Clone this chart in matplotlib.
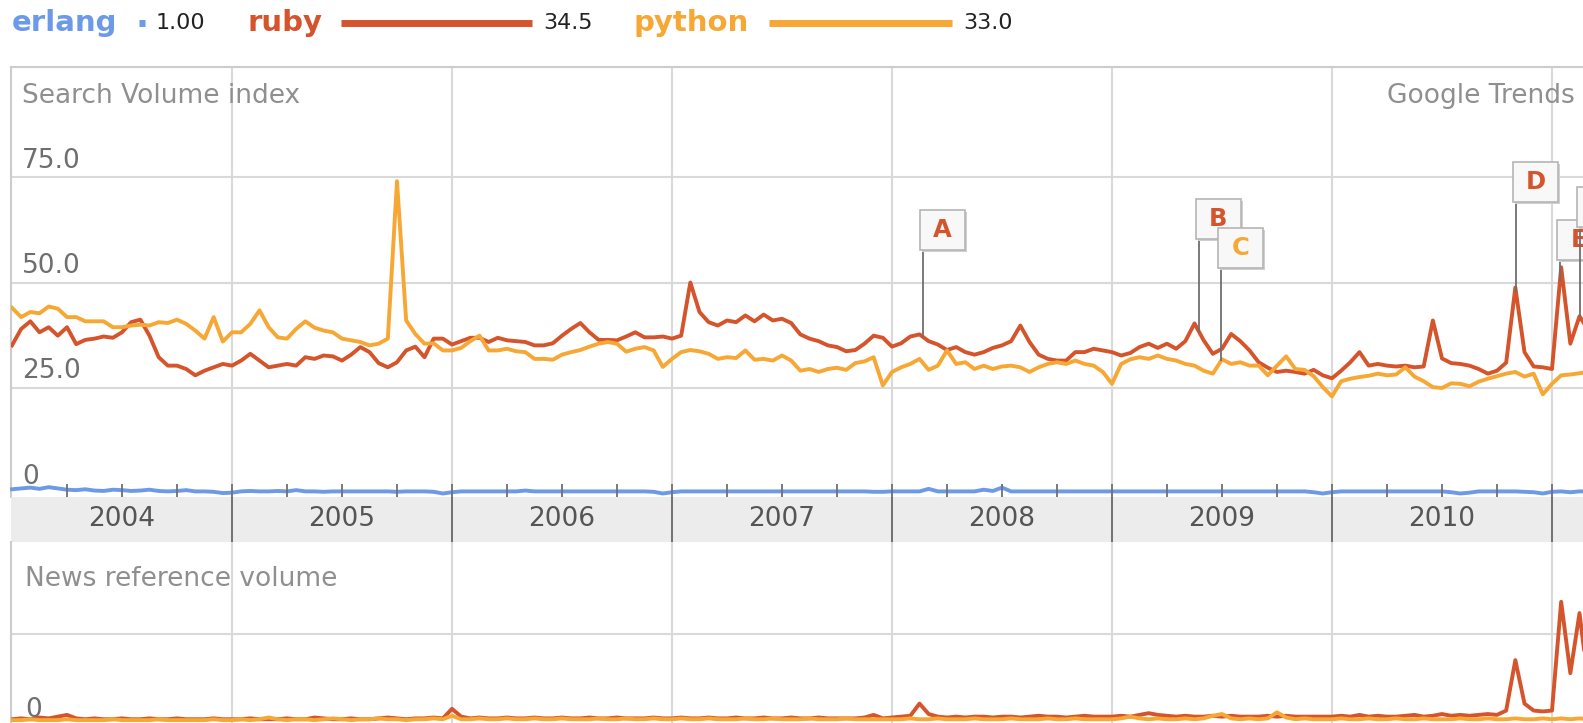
import numpy as np
import matplotlib
matplotlib.use('Agg')
import matplotlib.pyplot as plt
from matplotlib.patches import Rectangle
from matplotlib.lines import Line2D

# ---- data (semi-monthly samples from Jan 2004) ----
series_names = ['erlang', 'ruby', 'python']
series_avg = [1.00, 34.5, 33.0]
series_colors = ['#6d9ae8', '#d5542b', '#f6a734']

year_labels = ['2004', '2005', '2006', '2007', '2008', '2009', '2010']

python_search = [
    44.0, 41.8, 43.0, 42.7, 44.3, 43.8, 41.8, 41.8, 40.8, 40.8, 40.8, 39.4,
    39.4, 39.8, 40.0, 39.8, 40.6, 40.4, 41.2, 40.2, 38.6, 36.7, 41.8, 36.0,
    38.2, 38.2, 40.2, 43.4, 39.4, 37.0, 36.7, 39.0, 40.8, 39.3, 38.6, 38.2,
    36.7, 36.3, 35.9, 35.1, 35.5, 36.7, 74.0, 41.0, 37.8, 35.5, 35.6, 33.9,
    33.9, 34.5, 36.1, 37.4, 33.9, 33.9, 34.3, 33.7, 33.5, 31.9, 31.9, 31.7,
    32.9, 33.5, 34.0, 34.8, 35.5, 35.9, 35.5, 33.6, 34.3, 34.7, 33.9, 30.0,
    31.9, 33.5, 34.0, 33.7, 33.1, 31.9, 32.3, 32.1, 33.9, 31.7, 31.9, 31.5,
    32.7, 31.5, 29.1, 29.5, 28.8, 29.5, 29.8, 29.3, 30.9, 31.3, 32.3, 25.6,
    28.8, 29.9, 30.7, 31.9, 29.3, 30.3, 33.9, 30.7, 31.1, 29.5, 30.3, 29.5,
    30.1, 30.3, 29.9, 28.8, 29.9, 30.7, 31.1, 30.7, 31.5, 30.7, 30.3, 28.8,
    26.0, 30.7, 31.8, 32.3, 31.9, 32.7, 31.9, 31.5, 30.7, 30.3, 29.1, 28.4,
    31.8, 30.7, 31.1, 30.3, 30.3, 28.0, 30.3, 32.5, 29.5, 29.3, 27.8, 25.2,
    23.0, 26.6, 27.2, 27.6, 27.9, 28.4, 28.0, 28.2, 29.9, 27.7, 26.6, 25.2,
    25.0, 26.1, 26.0, 25.4, 26.5, 27.2, 27.8, 28.4, 28.8, 27.7, 28.4, 23.5,
    26.0, 28.0, 28.2, 28.5, 28.8,
]

ruby_search = [
    35.1, 39.0, 40.8, 38.2, 39.4, 37.4, 39.4, 35.4, 36.4, 36.7, 37.2, 36.9,
    38.2, 40.6, 41.2, 37.4, 32.3, 30.3, 30.3, 29.5, 28.0, 29.1, 29.9, 30.7,
    30.3, 31.5, 33.1, 31.5, 29.9, 30.3, 30.7, 30.3, 32.3, 31.9, 32.7, 32.5,
    31.5, 32.9, 34.7, 33.5, 30.9, 29.9, 31.1, 33.9, 34.8, 32.3, 36.7, 36.7,
    35.3, 36.1, 36.9, 36.9, 35.9, 36.9, 36.3, 36.1, 35.9, 35.1, 35.1, 35.6,
    37.4, 39.0, 40.4, 38.2, 36.4, 36.4, 36.3, 37.2, 38.2, 37.0, 37.0, 37.2,
    36.7, 37.4, 50.0, 43.0, 40.6, 39.8, 41.0, 40.6, 42.2, 40.8, 42.4, 41.0,
    41.4, 40.4, 37.7, 36.7, 36.1, 35.1, 34.7, 33.7, 34.0, 35.5, 37.4, 36.9,
    34.8, 35.6, 37.2, 37.7, 36.1, 35.3, 34.0, 34.7, 33.5, 32.9, 33.5, 34.5,
    35.1, 36.1, 39.8, 35.9, 32.9, 31.9, 31.5, 31.5, 33.5, 33.5, 34.3, 33.9,
    33.5, 32.7, 33.3, 34.7, 35.5, 34.5, 35.5, 34.3, 36.1, 40.3, 36.3, 33.1,
    34.3, 37.8, 36.1, 33.9, 31.1, 29.8, 28.8, 29.1, 28.8, 28.4, 29.3, 28.0,
    27.3, 29.1, 31.1, 33.5, 30.3, 30.7, 30.3, 30.1, 30.3, 29.9, 30.1, 41.0,
    32.0, 30.9, 30.7, 30.3, 29.5, 28.4, 29.1, 31.0, 48.8, 33.5, 30.1, 29.9,
    29.5, 53.6, 35.5, 42.0, 38.6,
]

erlang_search = [
    1.0, 1.2, 1.4, 1.1, 1.5, 1.2, 0.9, 0.8, 1.0, 0.7, 0.6, 0.9, 0.8, 0.6, 0.7, 0.9, 0.6, 0.5, 0.6, 0.8, 0.5, 0.5, 0.4, 0.1,
    0.2, 0.5, 0.6, 0.5, 0.5, 0.6, 0.5, 0.8, 0.5, 0.5, 0.4, 0.5, 0.5, 0.5, 0.5, 0.5, 0.5, 0.5, 0.4, 0.5, 0.5, 0.5, 0.4, 0.0,
    0.3, 0.5, 0.5, 0.5, 0.5, 0.5, 0.5, 0.5, 0.7, 0.5, 0.5, 0.5, 0.5, 0.5, 0.5, 0.5, 0.5, 0.5, 0.5, 0.5, 0.5, 0.5, 0.4, 0.0,
    0.3, 0.5, 0.5, 0.5, 0.5, 0.5, 0.5, 0.5, 0.5, 0.5, 0.5, 0.5, 0.5, 0.5, 0.5, 0.5, 0.5, 0.5, 0.5, 0.5, 0.5, 0.5, 0.4, 0.4,
    0.5, 0.5, 0.5, 0.5, 1.1, 0.5, 0.5, 0.5, 0.5, 0.5, 0.9, 0.6, 1.4, 0.5, 0.5, 0.5, 0.5, 0.5, 0.5, 0.5, 0.5, 0.5, 0.5, 0.5,
    0.5, 0.5, 0.5, 0.5, 0.5, 0.5, 0.5, 0.5, 0.5, 0.5, 0.5, 0.5, 0.5, 0.5, 0.5, 0.5, 0.5, 0.5, 0.5, 0.5, 0.5, 0.5, 0.3, 0.0,
    0.3, 0.5, 0.5, 0.5, 0.5, 0.5, 0.5, 0.5, 0.5, 0.5, 0.5, 0.5, 0.5, 0.3, 0.0, 0.2, 0.5, 0.5, 0.5, 0.5, 0.5, 0.4, 0.3, 0.0,
    0.4, 0.5, 0.3, 0.5, 0.5,
]

ruby_news = [
    0.02, 0.03, 0.02, 0.04, 0.03, 0.05, 0.07, 0.03, 0.02, 0.03, 0.02, 0.02, 0.03, 0.02, 0.02, 0.03, 0.02, 0.02, 0.03, 0.02, 0.02, 0.02, 0.03, 0.02,
    0.02, 0.02, 0.03, 0.02, 0.02, 0.02, 0.03, 0.02, 0.02, 0.04, 0.03, 0.02, 0.02, 0.03, 0.02, 0.02, 0.03, 0.04, 0.03, 0.02, 0.03, 0.03, 0.04, 0.03,
    0.14, 0.05, 0.03, 0.04, 0.03, 0.03, 0.04, 0.03, 0.03, 0.04, 0.03, 0.03, 0.04, 0.03, 0.03, 0.04, 0.03, 0.03, 0.04, 0.03, 0.03, 0.03, 0.04, 0.03,
    0.03, 0.04, 0.03, 0.03, 0.04, 0.03, 0.03, 0.04, 0.03, 0.03, 0.04, 0.03, 0.03, 0.04, 0.03, 0.03, 0.04, 0.03, 0.03, 0.03, 0.03, 0.04, 0.07, 0.03,
    0.04, 0.05, 0.06, 0.20, 0.08, 0.05, 0.04, 0.05, 0.04, 0.05, 0.05, 0.04, 0.05, 0.05, 0.04, 0.05, 0.06, 0.05, 0.05, 0.04, 0.05, 0.06, 0.05, 0.05,
    0.05, 0.06, 0.05, 0.07, 0.09, 0.07, 0.06, 0.05, 0.06, 0.05, 0.05, 0.06, 0.05, 0.06, 0.05, 0.05, 0.05, 0.06, 0.05, 0.06, 0.05, 0.05, 0.05, 0.05,
    0.05, 0.06, 0.05, 0.07, 0.05, 0.06, 0.05, 0.05, 0.06, 0.07, 0.05, 0.06, 0.08, 0.06, 0.07, 0.06, 0.07, 0.08, 0.07, 0.12, 0.70, 0.20, 0.12, 0.11,
    0.12, 1.37, 0.55, 1.24, 0.39,
]

python_news = [
    0.01, 0.01, 0.02, 0.01, 0.01, 0.01, 0.02, 0.01, 0.01, 0.01, 0.01, 0.02, 0.01, 0.01, 0.01, 0.01, 0.02, 0.01, 0.01, 0.01, 0.01, 0.01, 0.02, 0.01,
    0.01, 0.02, 0.01, 0.02, 0.04, 0.02, 0.01, 0.02, 0.02, 0.01, 0.02, 0.03, 0.02, 0.01, 0.02, 0.02, 0.03, 0.02, 0.02, 0.01, 0.02, 0.02, 0.03, 0.02,
    0.06, 0.02, 0.02, 0.03, 0.02, 0.02, 0.03, 0.02, 0.02, 0.03, 0.02, 0.02, 0.03, 0.02, 0.02, 0.02, 0.03, 0.02, 0.02, 0.03, 0.02, 0.02, 0.03, 0.02,
    0.02, 0.03, 0.02, 0.02, 0.03, 0.02, 0.02, 0.02, 0.03, 0.02, 0.02, 0.03, 0.02, 0.02, 0.02, 0.03, 0.02, 0.02, 0.02, 0.03, 0.02, 0.02, 0.02, 0.02,
    0.02, 0.02, 0.03, 0.02, 0.02, 0.03, 0.02, 0.02, 0.02, 0.03, 0.02, 0.02, 0.02, 0.03, 0.02, 0.02, 0.02, 0.03, 0.02, 0.02, 0.03, 0.02, 0.02, 0.02,
    0.02, 0.03, 0.05, 0.03, 0.02, 0.03, 0.02, 0.02, 0.03, 0.02, 0.03, 0.06, 0.08, 0.03, 0.02, 0.03, 0.02, 0.03, 0.10, 0.04, 0.02, 0.03, 0.02, 0.02,
    0.02, 0.03, 0.02, 0.02, 0.03, 0.02, 0.02, 0.03, 0.02, 0.02, 0.03, 0.02, 0.02, 0.02, 0.03, 0.02, 0.02, 0.03, 0.02, 0.02, 0.03, 0.02, 0.02, 0.03,
    0.02, 0.03, 0.02, 0.03, 0.02,
]

# news flags: letter, date (decimal year), series the flag points at
# (the sixth flag's letter lies beyond the cropped edge of the screenshot)
flag_letters = ['A', 'B', 'C', 'D', 'E', '']
flag_dates = [2008.141, 2009.395, 2009.495, 2010.836, 2011.036, 2011.127]
flag_series = ['ruby', 'ruby', 'python', 'ruby', 'ruby', 'ruby']

# semi-monthly sample dates
dates = 2004 + np.arange(len(ruby_search)) / 24.0

# ---- layout (pixels of the 1583x723 picture) ----
W, H = 1583, 723
X0_PX, PX_YEAR = 12, 220.0          # Jan 2004 position, pixels per year
UP_TOP, UP_BOT, UP_ZERO, UP_PXU = 67, 497, 493.5, 4.22
BAND_BOT = 542
LO_ZERO, LO_PXU = 721, 87.0
LEFT = 11
flag_box_bottom_px = [250, 239, 268, 202, 260, 227]

GRID = '#d9d9d9'
TICKC = '#707070'
LABEL_FS = 19

fig = plt.figure(figsize=(W / 100, H / 100), dpi=100)


def px_axes(top, bottom):
    return fig.add_axes([LEFT / W, 1 - bottom / H, (W - LEFT) / W, (bottom - top) / H])


def ftext(x, y, s, **kw):
    return fig.text(x / W, 1 - y / H, s, **kw)


xlim = (2004 + (LEFT - X0_PX) / PX_YEAR, 2004 + (W - X0_PX) / PX_YEAR)
years = np.arange(2005, 2012)
quarters = np.arange(2004.25, 2011.1, 0.25)

# ---- upper panel: search volume ----
ax = px_axes(UP_TOP, UP_BOT)
ax.set_xlim(*xlim)
ax.set_ylim((UP_ZERO - UP_BOT) / UP_PXU, (UP_ZERO - UP_TOP) / UP_PXU)
ax.set_yticks([25, 50, 75])
ax.set_xticks(years)
ax.grid(True, color=GRID, lw=1.5)
ax.tick_params(length=0, labelbottom=False, labelleft=False)
for side in ['right', 'bottom']:
    ax.spines[side].set_visible(False)
for side in ['left', 'top']:
    ax.spines[side].set_color('#cccccc')
    ax.spines[side].set_linewidth(1.5)

lw = 2.8
ax.plot(dates, ruby_search, color=series_colors[1], lw=lw, solid_joinstyle='round', zorder=3)
ax.plot(dates, python_search, color=series_colors[2], lw=lw, solid_joinstyle='round', zorder=4)
ax.plot(dates, erlang_search, color=series_colors[0], lw=lw, solid_joinstyle='round', zorder=5, clip_on=False)

# flags
lookup = {'ruby': (ruby_search, series_colors[1]), 'python': (python_search, series_colors[2])}
bw, bh = 45 / PX_YEAR, 40 / UP_PXU
for k, (letter, d, sname) in enumerate(zip(flag_letters, flag_dates, flag_series)):
    vals, col = lookup[sname]
    yv = np.interp(d, dates, vals)
    yb = (UP_ZERO - flag_box_bottom_px[k]) / UP_PXU
    z = 10 + 2 * k
    ax.vlines(d, yv, yb, color='#6f6f6f', lw=1.3, zorder=z)
    x_left = d - 3 / PX_YEAR
    ax.add_patch(Rectangle((x_left + 2 / PX_YEAR, yb - 2 / UP_PXU), bw, bh,
                           facecolor='#cfcfcf', edgecolor='none', zorder=z))
    ax.add_patch(Rectangle((x_left, yb), bw, bh, facecolor='#f8f8f8',
                           edgecolor='#b5b5b5', lw=1.2, zorder=z + 0.5))
    if letter:
        ax.text(x_left + bw / 2, yb + bh / 2, letter, color=col, fontsize=17.5,
                fontweight='bold', ha='center', va='center', zorder=z + 1, clip_on=True)

ftext(22, 96, 'Search Volume index', color='#8f8f8f', fontsize=LABEL_FS, va='center')
ftext(1575, 96, 'Google Trends', color='#8f8f8f', fontsize=LABEL_FS, va='center', ha='right')
for v, lab in zip([0, 25, 50, 75], ['0', '25.0', '50.0', '75.0']):
    ftext(22, UP_ZERO - UP_PXU * v - 16.5, lab, color='#6e6e6e', fontsize=LABEL_FS, va='center')

# ---- year band ----
band = px_axes(UP_BOT, BAND_BOT)
band.set_xlim(*xlim)
band.set_ylim(0, 1)
band.set_facecolor('#ececec')
for s in band.spines.values():
    s.set_visible(False)
band.set_yticks([])
band.set_xticks(quarters)
band.tick_params(axis='x', direction='out', length=9.5, width=1.3, color=TICKC,
                 top=True, bottom=True, labelbottom=False)
for yr in years:
    band.axvline(yr, color=TICKC, lw=1.4)
for k, lab in enumerate(year_labels):
    band.text(2004.5 + k, 0.5, lab, ha='center', va='center', fontsize=LABEL_FS, color='#555555')

# ---- lower panel: news reference volume ----
lo = px_axes(BAND_BOT, H)
lo.set_xlim(*xlim)
lo.set_ylim((LO_ZERO - H) / LO_PXU, (LO_ZERO - BAND_BOT) / LO_PXU)
lo.set_yticks([1.0])
lo.set_xticks(years)
lo.grid(True, color=GRID, lw=1.5)
lo.tick_params(length=0, labelbottom=False, labelleft=False)
for side in ['right', 'bottom', 'top']:
    lo.spines[side].set_visible(False)
lo.spines['left'].set_color('#cccccc')
lo.spines['left'].set_linewidth(1.5)
lo.plot(dates, ruby_news, color=series_colors[1], lw=lw, solid_joinstyle='round', zorder=3)
lo.plot(dates, python_news, color=series_colors[2], lw=lw, solid_joinstyle='round', zorder=4)

ftext(25, 578.5, 'News reference volume', color='#8f8f8f', fontsize=LABEL_FS, va='center')
ftext(25, 710, '0', color='#6e6e6e', fontsize=LABEL_FS, va='center')

# ---- legend row ----
name_x = [12, 247, 634]
line_x = [139, 341, 769]
px_per_avg = 5.54
for name, avg, col, nx, lx in zip(series_names, series_avg, series_colors, name_x, line_x):
    ftext(nx, 23, name, color=col, fontsize=21, fontweight='bold', va='center')
    x1 = lx + avg * px_per_avg
    fig.add_artist(Line2D([lx / W, x1 / W], [1 - 23 / H, 1 - 23 / H], color=col,
                          lw=5, solid_capstyle='butt', transform=fig.transFigure))
    ftext(x1 + 11, 23, '%.2f' % avg if avg < 10 else '%.1f' % avg,
          color='#222222', fontsize=16, va='center')

fig.savefig('out.png', dpi=100)
